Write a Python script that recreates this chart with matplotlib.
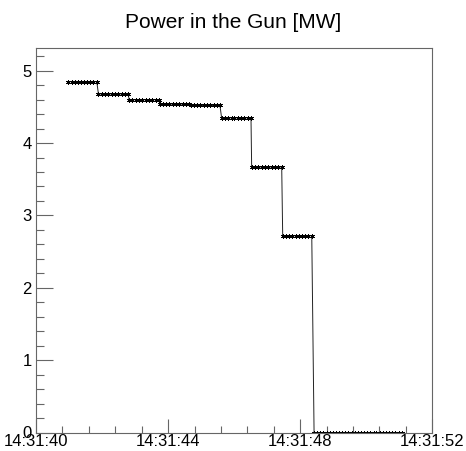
import matplotlib
matplotlib.use("Agg")
import matplotlib.pyplot as plt
from matplotlib.ticker import MultipleLocator, FixedLocator

plt.rcParams['font.family'] = ['Liberation Sans', 'DejaVu Sans']

# seconds after 14:31:40, one list per power level
level_times = [
    [0.98, 1.08, 1.17, 1.27, 1.36, 1.46, 1.55, 1.65, 1.74, 1.84],
    [1.89, 1.99, 2.09, 2.19, 2.29, 2.39, 2.49, 2.59, 2.69, 2.79],
    [2.82, 2.92, 3.02, 3.12, 3.22, 3.32, 3.42, 3.52, 3.62, 3.72],
    [3.75, 3.85, 3.95, 4.04, 4.14, 4.24, 4.34, 4.44, 4.53, 4.63],
    [4.69, 4.79, 4.89, 4.98, 5.08, 5.18, 5.28, 5.38, 5.47, 5.57],
    [5.62, 5.72, 5.82, 5.92, 6.01, 6.11, 6.21, 6.31, 6.41, 6.51],
    [6.53, 6.63, 6.73, 6.83, 6.93, 7.04, 7.14, 7.24, 7.34, 7.44],
    [7.47, 7.57, 7.67, 7.76, 7.86, 7.96, 8.06, 8.16, 8.25, 8.35],
    [8.42, 8.51, 8.61, 8.70, 8.80, 8.89, 8.99, 9.08, 9.18, 9.27,
     9.37, 9.46, 9.56, 9.65, 9.74, 9.84, 9.93, 10.03, 10.12, 10.22,
     10.31, 10.41, 10.50, 10.60, 10.69, 10.79, 10.88, 10.98, 11.07],
]
level_power = [4.85, 4.68, 4.60, 4.54, 4.52, 4.35, 3.67, 2.72, 0.0]

tick_pos = [0, 4, 8, 12]
tick_labels = ['14:31:40', '14:31:44', '14:31:48', '14:31:52']

t = []
p = []
for ts, lv in zip(level_times, level_power):
    t += ts
    p += [lv] * len(ts)

fig = plt.figure(figsize=(4.66, 4.51), dpi=100)
ax = fig.add_axes([36 / 466, 18.5 / 451, 396.3 / 466, 384.2 / 451])

ax.plot(t, p, color='#222222', lw=0.7, marker=(6, 2, 0), ms=3.5, mew=0.6,
        mec='black')

ax.set_xlim(0, 12)
ax.set_ylim(0, 5.31)

ax.xaxis.set_major_locator(FixedLocator(tick_pos))
ax.set_xticklabels(tick_labels)
ax.xaxis.set_minor_locator(MultipleLocator(0.8))
ax.yaxis.set_major_locator(MultipleLocator(1))
ax.yaxis.set_minor_locator(MultipleLocator(0.2))

frame = '#666666'
for s in ax.spines.values():
    s.set_color(frame)
    s.set_linewidth(0.8)
ax.tick_params(which='both', direction='in', color=frame, width=0.8,
               top=False, right=False, labelsize=12)
ax.tick_params(axis='y', which='major', length=12, pad=3)
ax.tick_params(axis='y', which='minor', length=6)
ax.tick_params(axis='x', which='major', length=10, pad=1)
ax.tick_params(axis='x', which='minor', length=5)

fig.suptitle('Power in the Gun [MW]', x=0.5, y=1 - 22 / 451, va='center', fontsize=15)

fig.savefig('out.png', dpi=100)
